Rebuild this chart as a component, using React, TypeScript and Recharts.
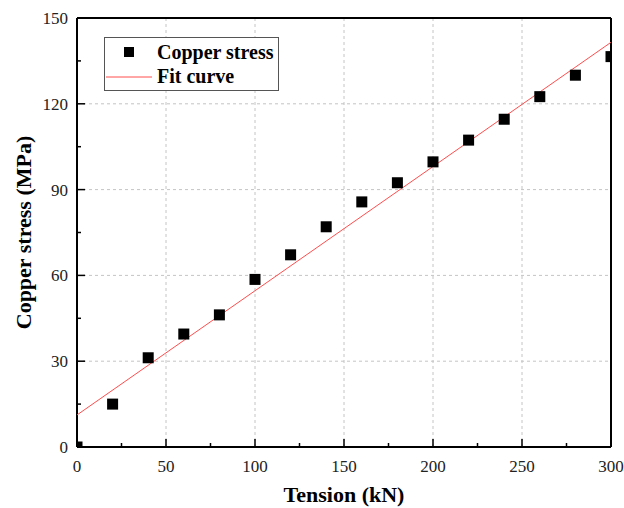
import React from "react";
import {
  ComposedChart,
  Scatter,
  XAxis,
  YAxis,
  ReferenceLine,
  Legend,
} from "recharts";

// measured copper stress (MPa) vs tension (kN)
const tension = [0, 20, 40, 60, 80, 100, 120, 140, 160, 180, 200, 220, 240, 260, 280, 300];
const stress = [0, 15.0, 31.2, 39.5, 46.2, 58.6, 67.2, 77.0, 85.7, 92.4, 99.7, 107.3, 114.6, 122.5, 130.0, 136.5];

// linear fit end points
const fitX = [0, 300];
const fitY = [11.2, 141.5];

const xTicks = [0, 25, 50, 75, 100, 125, 150, 175, 200, 225, 250, 275, 300];
const yTicks = [0, 15, 30, 45, 60, 75, 90, 105, 120, 135, 150];
const xGrid = [50, 100, 150, 200, 250];
const yGrid = [30, 60, 90, 120];

const SERIF = '"Liberation Serif", "Times New Roman", serif';

const points = tension.map((t, i) => ({ x: t, y: stress[i] }));
const fitData = fitX.map((t, i) => ({ x: t, y: fitY[i] }));

const XTick = (props: any) => {
  const { x, y, payload } = props;
  const major = payload.value % 50 === 0;
  return (
    <g>
      <line x1={x} x2={x} y1={y} y2={y - (major ? 8 : 4)} stroke="#000" strokeWidth={1.5} />
      {major && (
        <text x={x} y={y + 25} textAnchor="middle" fontFamily={SERIF} fontSize={17} fill="#222">
          {payload.value}
        </text>
      )}
    </g>
  );
};

const YTick = (props: any) => {
  const { x, y, payload } = props;
  const major = payload.value % 30 === 0;
  return (
    <g>
      <line x1={x} x2={x + (major ? 8 : 4)} y1={y} y2={y} stroke="#000" strokeWidth={1.5} />
      {major && (
        <text x={x - 9} y={y + 6} textAnchor="end" fontFamily={SERIF} fontSize={17} fill="#222">
          {payload.value}
        </text>
      )}
    </g>
  );
};

const Square = (props: any) => {
  const { cx, cy } = props;
  return <rect x={cx - 5.5} y={cy - 5.5} width={11} height={11} fill="#000" />;
};

const renderLegend = () => (
  <svg width={175} height={54} style={{ display: "block" }}>
    <rect x={0.5} y={0.5} width={174} height={53} fill="#fff" stroke="#555" strokeWidth={1} />
    <rect x={20} y={10} width={10} height={10} fill="#000" />
    <text x={53} y={22} fontFamily={SERIF} fontWeight="bold" fontSize={20} fill="#000">
      Copper stress
    </text>
    <line x1={2} x2={48} y1={40} y2={40} stroke="#ff4d4d" strokeWidth={1} />
    <text x={53} y={46} fontFamily={SERIF} fontWeight="bold" fontSize={20} fill="#000">
      Fit curve
    </text>
  </svg>
);

export default function App() {
  return (
    <div style={{ position: "absolute", left: 0, top: 0, width: 624, height: 508, background: "#fff" }}>
      <ComposedChart
        width={624}
        height={508}
        margin={{ top: 18, right: 13, bottom: 0, left: 17 }}
      >
        {xGrid.map((v) => (
          <ReferenceLine key={`gx${v}`} x={v} stroke="#c4c4c4" strokeDasharray="3 3" strokeWidth={1} />
        ))}
        {yGrid.map((v) => (
          <ReferenceLine key={`gy${v}`} y={v} stroke="#c4c4c4" strokeDasharray="3 3" strokeWidth={1} />
        ))}
        <XAxis
          dataKey="x"
          type="number"
          domain={[0, 300]}
          allowDataOverflow
          ticks={xTicks}
          interval={0}
          height={61}
          tickSize={0}
          tickMargin={0}
          tickLine={false}
          axisLine={{ stroke: "#000", strokeWidth: 2 }}
          tick={<XTick />}
          label={{
            content: (p: any) => {
              const vb = p.viewBox;
              return (
                <text
                  x={vb.x + vb.width / 2}
                  y={vb.y + 55}
                  textAnchor="middle"
                  fontFamily={SERIF}
                  fontWeight="bold"
                  fontSize={22}
                  fill="#000"
                >
                  Tension (kN)
                </text>
              );
            },
          }}
        />
        <YAxis
          dataKey="y"
          type="number"
          domain={[0, 150]}
          allowDataOverflow
          ticks={yTicks}
          interval={0}
          width={60}
          tickSize={0}
          tickMargin={0}
          tickLine={false}
          axisLine={{ stroke: "#000", strokeWidth: 2 }}
          tick={<YTick />}
          label={{
            content: (p: any) => {
              const vb = p.viewBox;
              const cy = vb.y + vb.height / 2;
              return (
                <text
                  x={31}
                  y={cy}
                  transform={`rotate(-90, 31, ${cy})`}
                  textAnchor="middle"
                  fontFamily={SERIF}
                  fontWeight="bold"
                  fontSize={22}
                  fill="#000"
                >
                  Copper stress (MPa)
                </text>
              );
            },
          }}
        />
        <Legend
          layout="vertical"
          align="center"
          verticalAlign="middle"
          width={175}
          height={54}
          wrapperStyle={{ left: 104, top: 37 }}
          content={renderLegend}
        />
        <Scatter
          name="Fit curve"
          data={fitData}
          line={{ stroke: "#ff4d4d", strokeWidth: 1 }}
          shape={() => null}
          isAnimationActive={false}
        />
        <Scatter
          name="Copper stress"
          data={points}
          fill="#000"
          shape={<Square />}
          isAnimationActive={false}
        />
        <ReferenceLine y={150} stroke="#000" strokeWidth={2} />
        <ReferenceLine x={300} stroke="#000" strokeWidth={2} />
      </ComposedChart>
    </div>
  );
}
